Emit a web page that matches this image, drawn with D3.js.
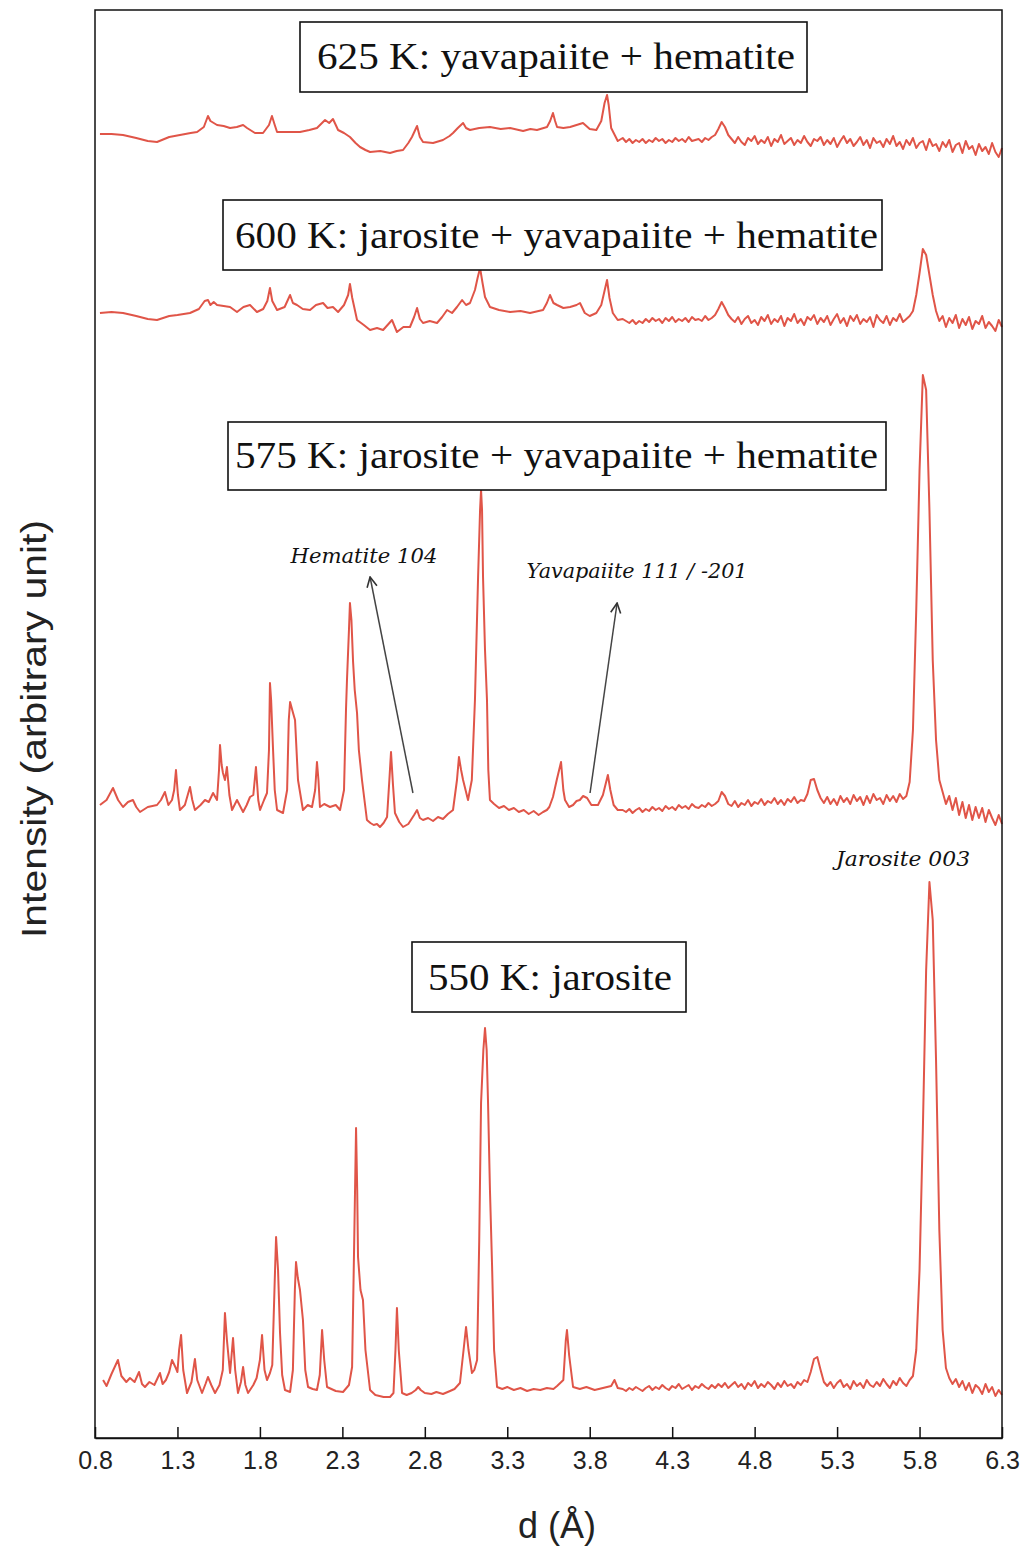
<!DOCTYPE html>
<html><head><meta charset="utf-8">
<script src="https://cdn.jsdelivr.net/npm/d3@7"></script>
<style>body{margin:0;background:#fff}</style>
</head><body>
<script>
// ---------------- DATA ----------------
const xTicks = [0.8,1.3,1.8,2.3,2.8,3.3,3.8,4.3,4.8,5.3,5.8,6.3];
const seriesNames = ["550 K","575 K","600 K","625 K"];
const seriesOffsets = [48, 628, 1125, 1305]; // vertical stacking offsets (arbitrary units)
const labelTexts = ["550 K: jarosite","575 K: jarosite + yavapaiite + hematite","600 K: jarosite + yavapaiite + hematite","625 K: yavapaiite + hematite"];
const peakNotes = ["Hematite 104","Yavapaiite 111 / -201","Jarosite 003"];

// low-d part of each pattern: [d (Å), intensity]
const spec550 = [[0.849,10],[0.87,4],[0.90,16],[0.939,30],[0.96,14],[0.99,8],[1.012,12],[1.04,8],[1.067,18],[1.085,6],[1.103,3],[1.13,8],[1.16,5],[1.194,17],[1.21,6],[1.23,10],[1.25,18],[1.267,30],[1.29,22],[1.30,18],[1.31,40],[1.322,55],[1.335,20],[1.358,-3],[1.385,8],[1.406,31],[1.42,10],[1.449,-3],[1.47,6],[1.485,13],[1.505,5],[1.528,-3],[1.555,5],[1.575,20],[1.588,77],[1.60,50],[1.619,17],[1.637,52],[1.65,20],[1.667,-3],[1.685,8],[1.698,23],[1.712,5],[1.728,-3],[1.76,5],[1.78,12],[1.80,30],[1.813,55],[1.828,20],[1.843,10],[1.861,17],[1.875,25],[1.89,110],[1.898,153],[1.91,120],[1.922,57],[1.935,15],[1.952,0],[1.983,-2],[2.00,20],[2.012,100],[2.019,128],[2.03,112],[2.043,100],[2.061,70],[2.075,20],[2.092,3],[2.12,1],[2.146,0],[2.163,15],[2.177,60],[2.19,30],[2.207,3],[2.26,-1],[2.304,-2],[2.34,5],[2.359,23],[2.372,150],[2.383,262],[2.39,200],[2.395,133],[2.41,100],[2.425,90],[2.44,40],[2.468,0],[2.50,-5],[2.55,-7],[2.589,-7],[2.61,-3],[2.622,40],[2.631,82],[2.642,40],[2.662,-3],[2.69,-5],[2.72,-3],[2.745,0],[2.76,3],[2.775,0],[2.80,-3],[2.84,-4],[2.87,-2],[2.91,-4],[2.953,-1],[2.98,1],[3.013,7],[3.035,40],[3.05,63],[3.065,40],[3.086,17],[3.10,20],[3.117,30],[3.13,150],[3.141,287],[3.155,340],[3.165,362],[3.175,340],[3.183,290],[3.195,200],[3.208,123],[3.22,40],[3.238,3],[3.27,1],[3.30,3],[3.34,0],[3.38,2],[3.42,-1],[3.46,1],[3.50,0],[3.54,2],[3.58,1],[3.602,4],[3.64,10],[3.655,50],[3.662,60],[3.675,35],[3.699,3],[3.74,1],[3.78,3],[3.83,0],[3.88,2],[3.93,4],[3.95,10],[3.97,2]];

const spec575 = [[0.83,5],[0.87,10],[0.909,22],[0.94,10],[0.97,3],[1.00,8],[1.03,10],[1.05,3],[1.073,-2],[1.12,3],[1.176,5],[1.20,10],[1.224,18],[1.245,5],[1.267,10],[1.28,20],[1.291,40],[1.303,15],[1.315,0],[1.345,5],[1.376,23],[1.39,10],[1.406,0],[1.44,5],[1.467,10],[1.49,8],[1.516,17],[1.540,10],[1.552,40],[1.558,65],[1.568,45],[1.576,37],[1.588,30],[1.600,43],[1.615,15],[1.631,0],[1.661,10],[1.698,-2],[1.72,5],[1.740,13],[1.76,15],[1.776,43],[1.79,10],[1.801,0],[1.825,10],[1.843,17],[1.855,60],[1.861,127],[1.868,110],[1.879,63],[1.89,20],[1.904,0],[1.940,-3],[1.965,20],[1.975,90],[1.983,108],[2.001,97],[2.013,90],[2.022,60],[2.031,30],[2.061,0],[2.09,5],[2.116,3],[2.135,20],[2.146,48],[2.155,30],[2.164,3],[2.19,6],[2.225,3],[2.26,5],[2.286,0],[2.31,20],[2.322,100],[2.328,130],[2.34,180],[2.346,207],[2.355,190],[2.365,148],[2.375,120],[2.389,97],[2.40,60],[2.419,30],[2.449,-10],[2.47,-13],[2.49,-15],[2.51,-14],[2.528,-17],[2.55,-13],[2.571,-7],[2.585,30],[2.595,58],[2.607,25],[2.619,-3],[2.645,-12],[2.668,-17],[2.70,-14],[2.735,-5],[2.753,0],[2.77,-8],[2.789,-10],[2.82,-8],[2.85,-11],[2.88,-7],[2.910,-9],[2.94,-4],[2.971,0],[2.995,30],[3.007,53],[3.02,40],[3.032,30],[3.062,10],[3.085,30],[3.104,110],[3.123,233],[3.135,300],[3.141,320],[3.147,300],[3.153,233],[3.165,160],[3.177,110],[3.185,40],[3.195,10],[3.22,6],[3.25,2],[3.28,4],[3.31,0],[3.34,2],[3.37,-2],[3.40,0],[3.43,-4],[3.46,-1],[3.49,-5],[3.517,-2],[3.54,0],[3.555,3],[3.577,13],[3.600,30],[3.626,48],[3.64,20],[3.650,10],[3.675,3],[3.699,5],[3.72,9],[3.74,10],[3.76,14],[3.784,12],[3.81,5],[3.85,5],[3.88,15],[3.91,35],[3.925,20],[3.945,5],[3.97,0]];

const spec600 = [[0.83,0],[0.90,1],[0.97,0],[1.05,-3],[1.12,-6],[1.176,-7],[1.25,-3],[1.30,-2],[1.376,0],[1.43,4],[1.465,12],[1.485,13],[1.50,8],[1.52,11],[1.540,8],[1.58,7],[1.619,6],[1.661,1],[1.70,6],[1.740,8],[1.782,1],[1.82,4],[1.845,12],[1.861,25],[1.875,12],[1.904,3],[1.95,6],[1.983,18],[2.00,10],[2.025,8],[2.06,4],[2.104,3],[2.14,8],[2.183,10],[2.21,5],[2.243,6],[2.274,1],[2.31,8],[2.335,18],[2.346,29],[2.36,15],[2.389,-7],[2.43,-12],[2.468,-17],[2.51,-15],[2.547,-17],[2.585,-10],[2.601,-7],[2.631,-19],[2.67,-14],[2.710,-14],[2.735,-4],[2.753,5],[2.77,-6],[2.789,-10],[2.83,-8],[2.874,-10],[2.905,-4],[2.935,3],[2.965,0],[2.995,6],[3.026,13],[3.05,8],[3.074,10],[3.104,23],[3.12,35],[3.135,45],[3.15,30],[3.165,16],[3.195,6],[3.25,3],[3.317,1],[3.38,2],[3.438,0],[3.49,2],[3.517,3],[3.54,10],[3.559,18],[3.58,10],[3.602,8],[3.64,5],[3.681,6],[3.72,8],[3.741,10],[3.77,0],[3.80,-3],[3.84,0],[3.87,8],[3.905,33],[3.92,15],[3.94,0],[3.97,-7]];

const spec625 = [[0.83,-1],[0.90,-1],[0.97,-2],[1.05,-5],[1.12,-8],[1.176,-9],[1.25,-4],[1.315,-2],[1.38,0],[1.419,1],[1.46,6],[1.485,17],[1.50,12],[1.540,8],[1.58,7],[1.619,5],[1.66,6],[1.698,8],[1.722,5],[1.770,0],[1.819,0],[1.855,8],[1.873,17],[1.89,8],[1.904,1],[1.97,1],[2.043,1],[2.10,3],[2.146,5],[2.195,13],[2.22,10],[2.243,14],[2.26,8],[2.274,3],[2.31,0],[2.346,-4],[2.38,-10],[2.407,-14],[2.44,-17],[2.468,-19],[2.53,-18],[2.589,-20],[2.63,-18],[2.668,-17],[2.70,-10],[2.722,-4],[2.753,7],[2.77,-4],[2.789,-9],[2.850,-10],[2.910,-7],[2.95,-3],[2.971,0],[3.00,5],[3.032,10],[3.05,5],[3.074,3],[3.13,5],[3.195,6],[3.26,4],[3.317,5],[3.396,2],[3.44,4],[3.480,3],[3.541,6],[3.56,12],[3.577,20],[3.59,12],[3.602,6],[3.64,5],[3.681,6],[3.72,8],[3.759,10],[3.80,4],[3.84,3],[3.87,12],[3.89,30],[3.905,38],[3.915,28],[3.93,5],[3.97,-8]];

// high-d part, sampled every 0.02 Å from 4.00 to 6.30 Å
const tailStartD = 4.00, tailStepD = 0.02;
const tail550 = [1,-1,2,0,3,1,-1,2,4,0,3,1,5,2,0,4,2,6,1,3,5,0,4,2,6,3,1,5,2,6,
  3,7,2,5,8,3,6,1,7,4,9,2,6,3,8,5,1,7,3,9,4,6,2,8,5,10,
  8,18,31,33,20,8,
  4,8,2,7,10,3,6,1,9,4,7,2,10,5,3,8,4,11,6,2,9,5,12,7,4,10,
  14,40,120,260,420,508,470,330,160,60,22,12,
  6,11,3,9,0,7,-3,5,2,-4,6,-2,3,-6,0,-5];
const tail575 = [0,-2,1,-3,0,2,-2,1,-1,3,0,2,-1,4,1,3,0,5,2,4,1,6,3,2,5,3,7,4,6,9,
  18,14,6,
  4,9,3,7,5,10,4,8,6,11,5,9,7,12,6,10,5,11,8,13,7,10,9,
  16,30,31,20,12,
  7,13,6,11,5,14,8,12,6,15,9,13,5,14,7,16,10,12,6,15,9,14,8,16,11,14,
  28,80,200,340,435,420,300,150,70,30,18,
  6,14,0,12,-5,8,-8,5,-10,3,-8,2,-12,0,-8,-15,-5,-14];
const tail600 = [-6,-8,-10,-7,-11,-8,-10,-6,-9,-5,-8,-6,-10,-5,-8,-4,-9,-6,-8,-5,-9,-4,-7,-6,-8,-3,-7,-5,-2,4,
  11,5,-2,
  -6,-9,-4,-11,-6,-3,-10,-7,-12,-4,-8,-2,-11,-6,-9,-3,-13,-5,-8,-1,-10,-6,-12,-4,-7,-2,-11,-5,-9,-3,
  -12,-6,-1,-10,-5,-13,-3,-8,-2,-11,-6,-9,-4,-14,-2,-7,-10,-3,-12,-5,-8,-1,-9,-6,-3,
  2,18,40,64,58,38,18,2,
  -8,-3,-14,-5,-10,-2,-15,-6,-12,-4,-16,-8,-11,-3,-15,-9,-13,-18,-7,-14];
const tail625 = [-5,-9,-6,-10,-7,-9,-6,-10,-7,-9,-5,-8,-6,-10,-7,-9,-5,-8,-6,-9,-4,-8,-7,-6,-9,-5,-7,-4,-2,4,
  11,6,-2,
  -6,-10,-4,-9,-12,-5,-8,-3,-11,-7,-10,-4,-13,-6,-9,-2,-11,-8,-5,-12,-7,-10,-3,-9,-13,-6,-8,-4,-12,-7,
  -11,-5,-14,-8,-3,-10,-6,-13,-9,-4,-12,-7,-15,-5,-10,-8,-14,-6,-11,-3,-13,-9,-16,-7,-12,-5,-15,-10,-8,-17,
  -6,-13,-11,-18,-9,-14,-7,-19,-12,-10,-20,-8,-16,-13,-22,-11,-18,-14,-21,-10,-19,-24,-15];

// ---------------- LAYOUT ----------------
const W = 1031, H = 1550;
const L = 95, R = 1002, T = 10, B = 1438;
const COLOR = "#e05548";

const svg = d3.select("body").append("svg").attr("width", W).attr("height", H)
  .style("font-family","'Liberation Sans', Arial, sans-serif");

const x = d3.scaleLinear().domain([0.8, 6.3]).range([L, R]);
const y = d3.scaleLinear().domain([0, 1428]).range([B, T]);

const heads = [spec550, spec575, spec600, spec625];
const tails = [tail550, tail575, tail600, tail625];
const allSeries = heads.map((h, i) => h.concat(tails[i].map((v, k) => [tailStartD + k * tailStepD, v])));

const line = d3.line().x(p => x(p[0])).y(p => y(p[1]));
svg.append("g").selectAll("path").data(allSeries).join("path")
  .attr("d", (s, i) => line(s.map(p => [p[0], p[1] + seriesOffsets[i]])))
  .attr("fill", "none").attr("stroke", COLOR).attr("stroke-width", 2)
  .attr("stroke-linejoin", "round");

// frame
svg.append("rect").attr("x", L).attr("y", T).attr("width", R - L).attr("height", B - T)
  .attr("fill", "none").attr("stroke", "#111").attr("stroke-width", 1.5);

// x axis
const ax = svg.append("g").attr("transform", `translate(0,${B})`)
  .call(d3.axisBottom(x).tickValues(xTicks).tickSize(-11).tickSizeOuter(0).tickPadding(13).tickFormat(d3.format(".1f")));
ax.select(".domain").attr("stroke", "#111").attr("stroke-width", 1.5);
ax.selectAll(".tick line").attr("stroke", "#111").attr("stroke-width", 1.5);
ax.selectAll(".tick text").attr("font-size", 25).attr("fill", "#222")
  .attr("font-family", "'Liberation Sans', Arial, sans-serif");

// axis titles
svg.append("text").attr("x", 557).attr("y", 1538).attr("text-anchor", "middle")
  .attr("font-size", 36).attr("fill", "#222").text("d (Å)");
svg.append("text").attr("transform", "translate(46,729) rotate(-90)").attr("text-anchor", "middle")
  .attr("font-size", 35).attr("fill", "#222").attr("textLength", 418).attr("lengthAdjust", "spacingAndGlyphs")
  .text("Intensity (arbitrary unit)");

// label boxes
const boxes = [
  {i:0, x:412, y:942, w:274, h:70, tx:428, tl:244, base:990},
  {i:1, x:228, y:422, w:658, h:68, tx:235, tl:643, base:468},
  {i:2, x:223, y:200, w:659, h:70, tx:235, tl:643, base:248},
  {i:3, x:300, y:22,  w:507, h:70, tx:317, tl:478, base:69}
];
const bg = svg.append("g");
boxes.forEach(b => {
  bg.append("rect").attr("x", b.x).attr("y", b.y).attr("width", b.w).attr("height", b.h)
    .attr("fill", "#fff").attr("stroke", "#111").attr("stroke-width", 1.6);
  bg.append("text").attr("x", b.tx).attr("y", b.base)
    .attr("font-family", "'Liberation Serif', 'Times New Roman', serif").attr("font-size", 38)
    .attr("fill", "#111").attr("textLength", b.tl).attr("lengthAdjust", "spacingAndGlyphs")
    .text(labelTexts[b.i]);
});

// annotations
const defs = svg.append("defs");
defs.append("marker").attr("id", "ah").attr("viewBox", "0 0 12 12").attr("refX", 11).attr("refY", 6)
  .attr("markerWidth", 12).attr("markerHeight", 12).attr("markerUnits", "userSpaceOnUse").attr("orient", "auto")
  .append("path").attr("d", "M1,1 L11,6 L1,11").attr("fill", "none").attr("stroke", "#333").attr("stroke-width", 1.6);

const arrows = [
  {x1:2.728, y1:645, x2:2.468, y2:861},
  {x1:3.802, y1:645, x2:3.966, y2:835}
];
svg.append("g").selectAll("line").data(arrows).join("line")
  .attr("x1", a => x(a.x1)).attr("y1", a => y(a.y1)).attr("x2", a => x(a.x2)).attr("y2", a => y(a.y2))
  .attr("stroke", "#444").attr("stroke-width", 1.5).attr("marker-end", "url(#ah)");

const notes = [
  {t:0, d:2.431, v:875, len:147},
  {t:1, d:4.087, v:860, len:221},
  {t:2, d:5.70, v:572, len:134}
];
svg.append("g").selectAll("text").data(notes).join("text")
  .attr("x", n => x(n.d)).attr("y", n => y(n.v)).attr("text-anchor", "middle")
  .attr("font-family", "'DejaVu Serif', serif").attr("font-style", "italic").attr("font-size", 20)
  .attr("fill", "#111").attr("textLength", n => n.len).attr("lengthAdjust", "spacingAndGlyphs")
  .text(n => peakNotes[n.t]);
</script>
</body></html>
